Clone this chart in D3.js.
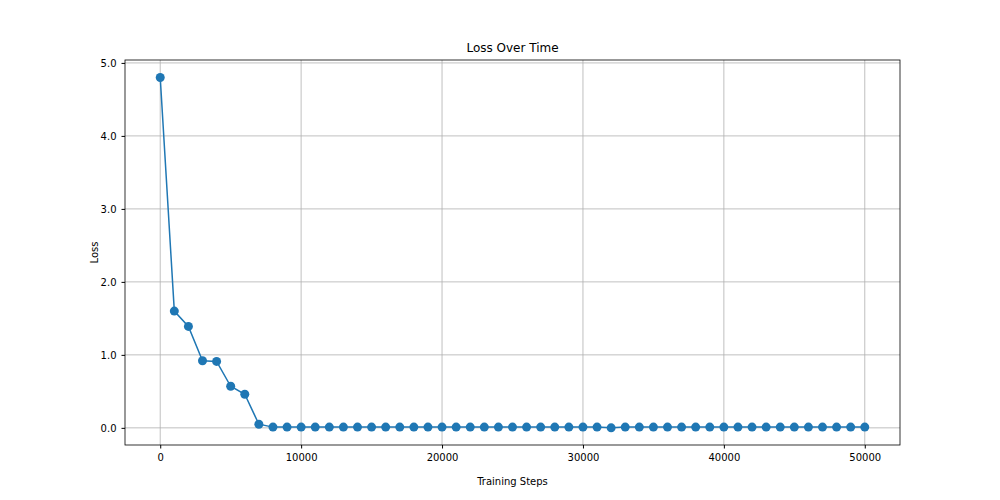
<!DOCTYPE html>
<html>
<head>
<meta charset="utf-8">
<script src="https://cdn.jsdelivr.net/npm/d3@7.9.0/dist/d3.min.js"></script>
<style>
  body { margin: 0; background: #fff; }
  text { font-family: "DejaVu Sans", sans-serif; }
</style>
</head>
<body>
<svg width="1000" height="500"></svg>
<script>
// training steps and loss values
const steps = d3.range(0, 50001, 1000);
const lossHead = [4.8, 1.6, 1.39, 0.92, 0.91, 0.57, 0.46, 0.05];
const lossTail = [0.01, 0.01, 0.01, 0.01, 0.01, 0.01, 0.01, 0.01, 0.01, 0.01,
  0.01, 0.01, 0.01, 0.01, 0.01, 0.01, 0.01, 0.01, 0.01, 0.01, 0.01, 0.01, 0.01,
  0.01, 0.0, 0.01, 0.01, 0.01, 0.01, 0.01, 0.01, 0.01, 0.01, 0.01, 0.01, 0.01,
  0.01, 0.01, 0.01, 0.01, 0.01, 0.01, 0.01];
const loss = lossHead.concat(lossTail);
const xTicks = [0, 10000, 20000, 30000, 40000, 50000];
const yTicks = [0, 1, 2, 3, 4, 5];

const data = steps.map((s, i) => ({ s, v: loss[i] }));

const mLeft = 125, mRight = 900, mTop = 60, mBottom = 445;
const svg = d3.select('svg');

const x = d3.scaleLinear().domain([-2500, 52500]).range([mLeft, mRight]);
const y = d3.scaleLinear().domain([-0.235, 5.04]).range([mBottom, mTop]);

// grid
svg.append('g').selectAll('line').data(xTicks).join('line')
  .attr('x1', d => x(d)).attr('x2', d => x(d))
  .attr('y1', mTop).attr('y2', mBottom)
  .attr('stroke', '#b0b0b0').attr('stroke-width', 0.8);
svg.append('g').selectAll('line').data(yTicks).join('line')
  .attr('y1', d => y(d)).attr('y2', d => y(d))
  .attr('x1', mLeft).attr('x2', mRight)
  .attr('stroke', '#b0b0b0').attr('stroke-width', 0.8);

// axes
const xAxis = svg.append('g').attr('transform', `translate(0,${mBottom})`)
  .call(d3.axisBottom(x).tickValues(xTicks).tickFormat(d3.format('d')).tickSizeOuter(0).tickSize(3.5).tickPadding(5));
const yAxis = svg.append('g').attr('transform', `translate(${mLeft},0)`)
  .call(d3.axisLeft(y).tickValues(yTicks).tickSizeOuter(0).tickSize(3.5).tickPadding(5));
[xAxis, yAxis].forEach(a => {
  a.select('.domain').remove();
  a.selectAll('text').attr('font-size', 10).attr('fill', '#000');
});

svg.append('rect').attr('x', mLeft).attr('y', mTop)
  .attr('width', mRight - mLeft).attr('height', mBottom - mTop)
  .attr('fill', 'none').attr('stroke', '#000').attr('stroke-width', 0.8);

// line + markers
svg.append('path').datum(data)
  .attr('d', d3.line().x(d => x(d.s)).y(d => y(d.v)))
  .attr('fill', 'none').attr('stroke', '#1f77b4').attr('stroke-width', 1.5);
svg.append('g').selectAll('circle').data(data).join('circle')
  .attr('cx', d => x(d.s)).attr('cy', d => y(d.v)).attr('r', 4.5)
  .attr('fill', '#1f77b4');

// labels
svg.append('text').attr('x', (mLeft + mRight) / 2).attr('y', 52)
  .attr('text-anchor', 'middle').attr('font-size', 12).text('Loss Over Time');
svg.append('text').attr('x', (mLeft + mRight) / 2).attr('y', 485)
  .attr('text-anchor', 'middle').attr('font-size', 10).text('Training Steps');
svg.append('text').attr('transform', `translate(98,${(mTop + mBottom) / 2}) rotate(-90)`)
  .attr('text-anchor', 'middle').attr('font-size', 10).text('Loss');
</script>
</body>
</html>
